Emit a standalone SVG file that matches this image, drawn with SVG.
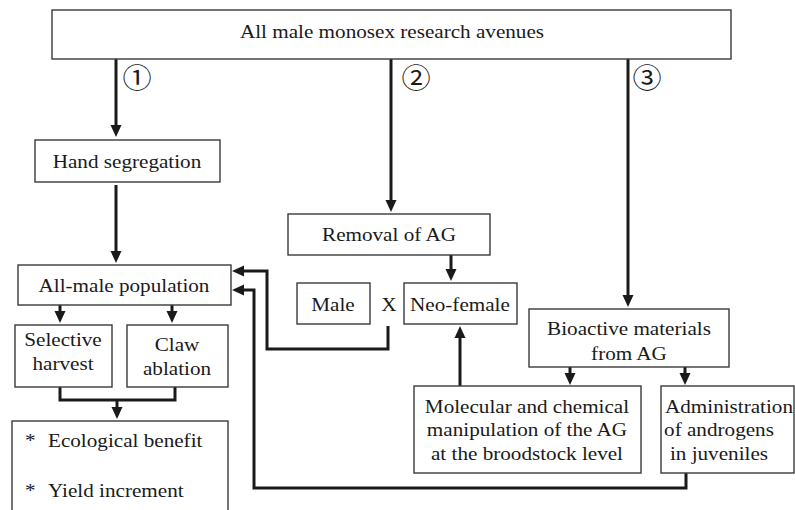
<svg xmlns="http://www.w3.org/2000/svg" width="795" height="510" viewBox="0 0 795 510">
<style>
.box{fill:#fff;stroke:#3a3a3a;stroke-width:1.4}
.ln{fill:none;stroke:#1a1a1a;stroke-width:3}
.ar{fill:none;stroke:#1a1a1a;stroke-width:3;marker-end:url(#ah)}
</style>
<defs>
<marker id="ah" markerUnits="userSpaceOnUse" markerWidth="12" markerHeight="12" refX="1" refY="6" orient="auto">
<path d="M0,0.5 L12,6 L0,11.5 z" fill="#1a1a1a"/>
</marker>
</defs>
<rect width="795" height="510" fill="#fff"/>
<g id="connectors">
<line class="ar" x1="116" y1="59" x2="116" y2="126"/>
<line class="ar" x1="116" y1="185" x2="116" y2="252"/>
<line class="ar" x1="391" y1="59" x2="391" y2="201"/>
<line class="ar" x1="451" y1="255" x2="451" y2="270"/>
<line class="ar" x1="460" y1="386" x2="460" y2="337"/>
<line class="ar" x1="628" y1="59" x2="628" y2="296"/>
<line class="ar" x1="570" y1="367" x2="570" y2="374"/>
<line class="ar" x1="685" y1="367" x2="685" y2="374"/>
<line class="ar" x1="60" y1="305" x2="60" y2="312"/>
<line class="ar" x1="172" y1="305" x2="172" y2="312"/>
<polyline class="ln" points="60,387 60,400 175,400 175,387"/>
<line class="ar" x1="117" y1="400" x2="117" y2="408"/>
<polyline class="ar" points="388,326 388,349 267,349 267,271 243,271"/>
<polyline class="ar" points="686,473 686,488 254,488 254,290 243,290"/>
</g>
<g id="labels" font-family="Noto Sans CJK JP, DejaVu Sans, sans-serif" font-size="27" fill="#1a1a1a" text-anchor="middle">
<text transform="scale(1.08,1)" x="126.85" y="88">①</text>
<text transform="scale(1.08,1)" x="385.19" y="88">②</text>
<text transform="scale(1.08,1)" x="599.07" y="88">③</text>
</g>
<g font-family="Liberation Serif, DejaVu Serif, serif" font-size="19.6" fill="#1a1a1a" text-anchor="middle">
<g id="n-top"><rect class="box" x="52" y="10" width="679" height="49"/><text transform="scale(1.08,1)" x="362.96" y="38">All male monosex research avenues</text></g>
<g id="n-hand"><rect class="box" x="35" y="140" width="185" height="42"/><text transform="scale(1.08,1)" x="117.59" y="168">Hand segregation</text></g>
<g id="n-allmale"><rect class="box" x="18" y="265" width="213" height="40"/><text transform="scale(1.08,1)" x="114.81" y="292">All-male population</text></g>
<g id="n-removal"><rect class="box" x="288" y="214" width="202" height="41"/><text transform="scale(1.08,1)" x="360.19" y="241">Removal of AG</text></g>
<g id="n-male"><rect class="box" x="297" y="283" width="73" height="41"/><text transform="scale(1.08,1)" x="308.33" y="311">Male</text></g>
<text transform="scale(1.08,1)" x="360.19" y="311">X</text>
<g id="n-neo"><rect class="box" x="404" y="283" width="113" height="41"/><text transform="scale(1.08,1)" x="425.93" y="311">Neo-female</text></g>
<g id="n-bio"><rect class="box" x="529" y="309" width="200" height="58"/><text transform="scale(1.08,1)" x="582.41" y="335">Bioactive materials</text><text transform="scale(1.08,1)" x="582.41" y="360">from AG</text></g>
<g id="n-mol"><rect class="box" x="414" y="386" width="227" height="87"/><text transform="scale(1.08,1)" x="487.96" y="413">Molecular and chemical</text><text transform="scale(1.08,1)" x="487.96" y="436">manipulation of the AG</text><text transform="scale(1.08,1)" x="487.96" y="460">at the broodstock level</text></g>
<g id="n-admin"><rect class="box" x="661" y="386" width="133" height="87"/><text transform="scale(1.08,1)" x="675" y="413">Administration</text><text transform="scale(1.08,1)" x="665.74" y="436">of androgens</text><text transform="scale(1.08,1)" x="665.74" y="460">in juveniles</text></g>
<g id="n-sel"><rect class="box" x="15" y="325" width="97" height="62"/><text transform="scale(1.08,1)" x="58.33" y="346">Selective</text><text transform="scale(1.08,1)" x="58.33" y="370">harvest</text></g>
<g id="n-claw"><rect class="box" x="127" y="325" width="101" height="62"/><text transform="scale(1.08,1)" x="163.89" y="351">Claw</text><text transform="scale(1.08,1)" x="163.89" y="375">ablation</text></g>
<g id="n-benefit" text-anchor="start"><rect class="box" x="12" y="421" width="216" height="100"/><text transform="scale(1.08,1)" x="23.15" y="447">*</text><text transform="scale(1.08,1)" x="44.44" y="447">Ecological benefit</text><text transform="scale(1.08,1)" x="23.15" y="497">*</text><text transform="scale(1.08,1)" x="44.44" y="497">Yield increment</text></g>
</g>
</svg>
